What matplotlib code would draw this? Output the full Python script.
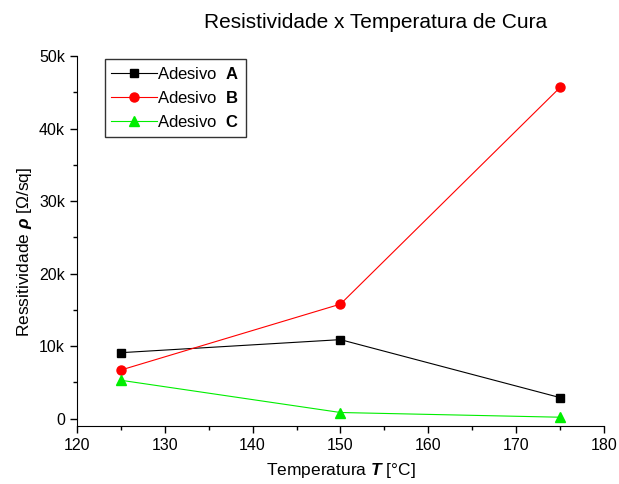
import numpy as np
import matplotlib.pyplot as plt
from matplotlib.ticker import MultipleLocator, FuncFormatter

plt.rcParams['font.family'] = ['Liberation Sans', 'DejaVu Sans']
plt.rcParams['mathtext.fontset'] = 'custom'
plt.rcParams['mathtext.rm'] = 'Liberation Sans'
plt.rcParams['mathtext.it'] = 'Liberation Sans:italic'
plt.rcParams['mathtext.bf'] = 'Liberation Sans:bold'
plt.rcParams['mathtext.bfit'] = 'Liberation Sans:italic:bold'

# Temperaturas de cura e resistividades
temp = [125, 150, 175]
res_a = [9100, 10900, 2900]
res_b = [6700, 15800, 45700]
res_c = [5300, 850, 200]

fig = plt.figure(figsize=(6.19, 4.84), dpi=100)
ax = fig.add_axes([0.124, 0.12, 0.852, 0.764])

ax.plot(temp, res_a, '-s', color='black', lw=0.8, ms=6, label='Adesivo  $\\mathbf{A}$')
ax.plot(temp, res_b, '-o', color='red', lw=0.8, ms=6.5, label='Adesivo  $\\mathbf{B}$')
ax.plot(temp, res_c, '-^', color='#00ee00', lw=0.8, ms=7, label='Adesivo  $\\mathbf{C}$')

ax.set_xlim(120, 180)
ax.set_ylim(-1000, 50000)
ax.xaxis.set_major_locator(MultipleLocator(10))
ax.xaxis.set_minor_locator(MultipleLocator(5))
ax.yaxis.set_major_locator(MultipleLocator(10000))
ax.yaxis.set_minor_locator(MultipleLocator(5000))
ax.yaxis.set_major_formatter(FuncFormatter(lambda v, p: '0' if v == 0 else '%dk' % (v / 1000)))

for s in ['top', 'right']:
    ax.spines[s].set_visible(False)
ax.tick_params(which='major', direction='out', length=5, width=1, labelsize=11.5)
ax.tick_params(which='minor', direction='out', length=3, width=1)

ax.set_title('Resistividade x Temperatura de Cura', fontsize=15, pad=20, x=0.566)
ax.set_xlabel('Temperatura $\\mathbfit{T}$ [°C]', fontsize=12.5, labelpad=6)
ax.set_ylabel('Ressitividade $\\mathbfit{\\rho}$ [Ω/sq]', fontsize=12.5)
ax.yaxis.set_label_coords(-0.082, 0.47)

leg = ax.legend(loc='upper left', bbox_to_anchor=(0.037, 1.015), fontsize=12,
                frameon=True, fancybox=False, edgecolor='black', handlelength=2.75,
                handletextpad=0.0, borderpad=0.4, labelspacing=0.5)
leg.get_frame().set_linewidth(1)

plt.savefig('out.png', dpi=100)
